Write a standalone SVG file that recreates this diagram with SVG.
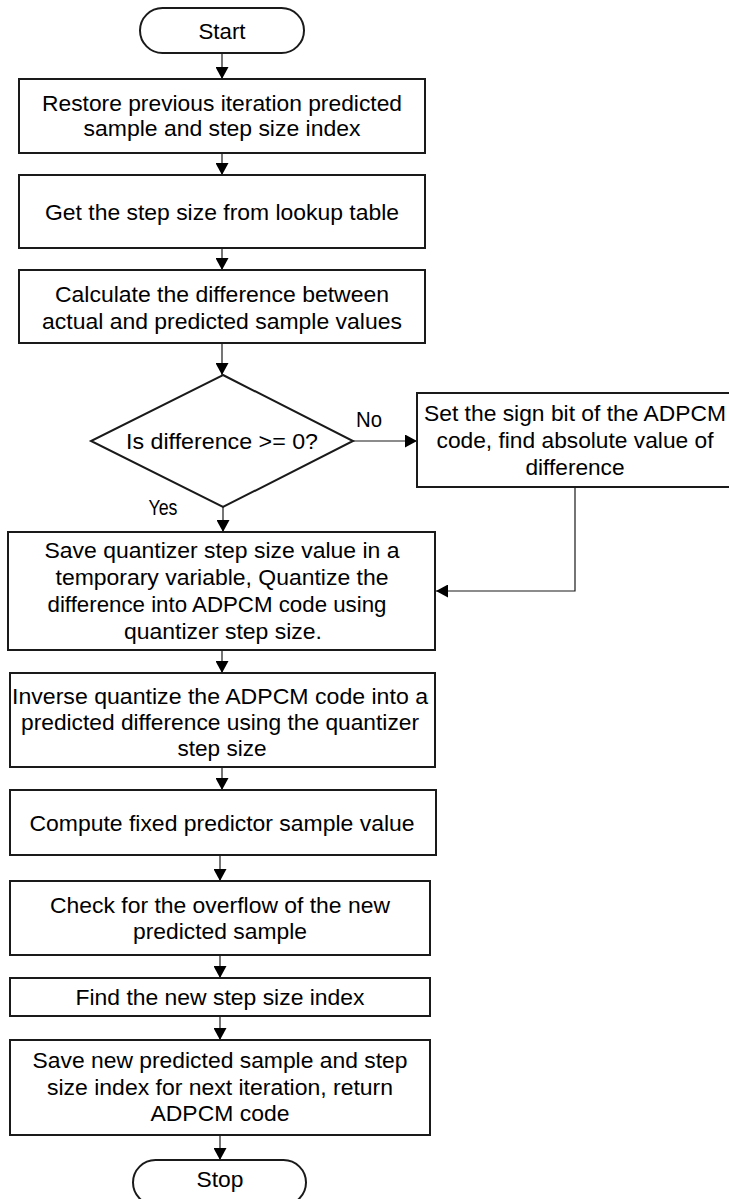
<svg xmlns="http://www.w3.org/2000/svg" width="729" height="1199" viewBox="0 0 729 1199">
<defs>
<marker id="ah" markerUnits="userSpaceOnUse" markerWidth="12" markerHeight="13" refX="12" refY="6.5" orient="auto">
<path d="M0,0 L12,6.5 L0,13 z" fill="#000"/>
</marker>
<style>
.box{fill:#fff;stroke:#1a1a1a;stroke-width:2}
.t{font-family:"Liberation Sans",Arial,sans-serif;font-size:22px;fill:#000;text-anchor:middle}
.c{fill:none;stroke:#1a1a1a;stroke-width:1.2;marker-end:url(#ah)}
</style>
</defs>
<rect width="729" height="1199" fill="#fff"/>
<g id="connectors">
<line class="c" x1="222" y1="53" x2="222" y2="79"/>
<line class="c" x1="222" y1="153" x2="222" y2="175"/>
<line class="c" x1="222" y1="248" x2="222" y2="270"/>
<line class="c" x1="222" y1="343" x2="222" y2="375"/>
<line class="c" x1="353" y1="441" x2="417" y2="441"/>
<line class="c" x1="223" y1="507" x2="223" y2="532"/>
<polyline class="c" points="575,487 575,591 436,591"/>
<line class="c" x1="222" y1="650" x2="222" y2="673"/>
<line class="c" x1="222" y1="746" x2="222" y2="790"/>
<line class="c" x1="220" y1="855" x2="220" y2="881"/>
<line class="c" x1="220" y1="955" x2="220" y2="978"/>
<line class="c" x1="220" y1="1016" x2="220" y2="1040"/>
<line class="c" x1="220" y1="1135" x2="220" y2="1160"/>
</g>
<g id="start">
<rect class="box" x="140" y="8" width="164" height="45" rx="22.5"/>
<text class="t" x="222" y="39" textLength="47" lengthAdjust="spacingAndGlyphs">Start</text>
</g>
<g id="restore">
<rect class="box" x="19" y="79" width="406" height="74"/>
<text class="t" x="222" y="111" textLength="360" lengthAdjust="spacingAndGlyphs">Restore previous iteration predicted</text>
<text class="t" x="222" y="136" textLength="277" lengthAdjust="spacingAndGlyphs">sample and step size index</text>
</g>
<g id="getstep">
<rect class="box" x="19" y="175" width="406" height="73"/>
<text class="t" x="222" y="220" textLength="354" lengthAdjust="spacingAndGlyphs">Get the step size from lookup table</text>
</g>
<g id="calc">
<rect class="box" x="19" y="270" width="406" height="73"/>
<text class="t" x="222" y="302" textLength="334" lengthAdjust="spacingAndGlyphs">Calculate the difference between</text>
<text class="t" x="222" y="329" textLength="360" lengthAdjust="spacingAndGlyphs">actual and predicted sample values</text>
</g>
<g id="decision">
<polygon class="box" points="223,375 353,441 223,507 91,441"/>
<text class="t" x="222" y="449" textLength="192" lengthAdjust="spacingAndGlyphs">Is difference &gt;= 0?</text>
</g>
<g id="labels">
<text class="t" x="369" y="427" textLength="26" lengthAdjust="spacingAndGlyphs">No</text>
<text class="t" x="163" y="515" textLength="29" lengthAdjust="spacingAndGlyphs">Yes</text>
</g>
<g id="setsign">
<rect class="box" x="417" y="393" width="320" height="94"/>
<text class="t" x="575" y="421" textLength="302" lengthAdjust="spacingAndGlyphs">Set the sign bit of the ADPCM</text>
<text class="t" x="575" y="448" textLength="277" lengthAdjust="spacingAndGlyphs">code, find absolute value of</text>
<text class="t" x="575" y="475" textLength="99" lengthAdjust="spacingAndGlyphs">difference</text>
</g>
<g id="quantize">
<rect class="box" x="8" y="532" width="427" height="118"/>
<text class="t" x="222" y="558" textLength="355" lengthAdjust="spacingAndGlyphs">Save quantizer step size value in a</text>
<text class="t" x="222" y="585" textLength="333" lengthAdjust="spacingAndGlyphs">temporary variable, Quantize the</text>
<text class="t" x="217" y="612" textLength="339" lengthAdjust="spacingAndGlyphs">difference into ADPCM code using</text>
<text class="t" x="223" y="639" textLength="198" lengthAdjust="spacingAndGlyphs">quantizer step size.</text>
</g>
<g id="inverse">
<rect class="box" x="10" y="673" width="425" height="94"/>
<text class="t" x="220" y="704" textLength="416" lengthAdjust="spacingAndGlyphs">Inverse quantize the ADPCM code into a</text>
<text class="t" x="220" y="730" textLength="398" lengthAdjust="spacingAndGlyphs">predicted difference using the quantizer</text>
<text class="t" x="222" y="756" textLength="89" lengthAdjust="spacingAndGlyphs">step size</text>
</g>
<g id="compute">
<rect class="box" x="10" y="790" width="426" height="65"/>
<text class="t" x="222" y="831" textLength="385" lengthAdjust="spacingAndGlyphs">Compute fixed predictor sample value</text>
</g>
<g id="overflow">
<rect class="box" x="10" y="881" width="420" height="74"/>
<text class="t" x="220" y="913" textLength="340" lengthAdjust="spacingAndGlyphs">Check for the overflow of the new</text>
<text class="t" x="220" y="939" textLength="174" lengthAdjust="spacingAndGlyphs">predicted sample</text>
</g>
<g id="findindex">
<rect class="box" x="10" y="978" width="420" height="38"/>
<text class="t" x="220" y="1005" textLength="289" lengthAdjust="spacingAndGlyphs">Find the new step size index</text>
</g>
<g id="savenew">
<rect class="box" x="10" y="1040" width="420" height="95"/>
<text class="t" x="220" y="1068" textLength="375" lengthAdjust="spacingAndGlyphs">Save new predicted sample and step</text>
<text class="t" x="220" y="1095" textLength="346" lengthAdjust="spacingAndGlyphs">size index for next iteration, return</text>
<text class="t" x="220" y="1121" textLength="139" lengthAdjust="spacingAndGlyphs">ADPCM code</text>
</g>
<g id="stop">
<rect class="box" x="133" y="1160" width="173" height="45" rx="22.5"/>
<text class="t" x="220" y="1187" textLength="47" lengthAdjust="spacingAndGlyphs">Stop</text>
</g>
</svg>
